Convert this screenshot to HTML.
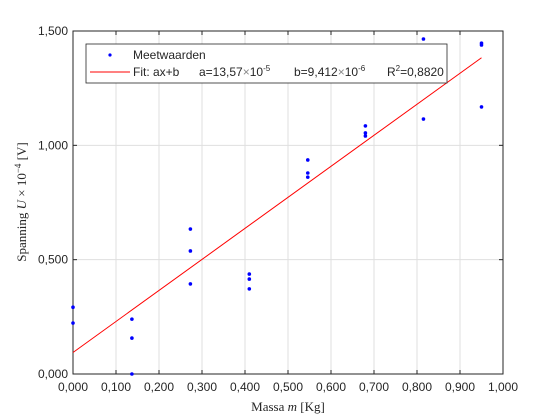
<!DOCTYPE html>
<html><head><meta charset="utf-8"><style>
html,body{margin:0;padding:0;background:#fff;}
svg{display:block;}
.t{font-family:"Liberation Sans",sans-serif;font-size:12px;fill:#262626;}
.s{font-family:"Liberation Serif",serif;font-size:13px;fill:#262626;}
</style></head><body>
<svg id="c" width="560" height="420">
<rect width="560" height="420" fill="#fff"/>
<g id="grid"></g><g id="axes"></g><g id="marks"></g>
<text class="s" x="288" y="411" text-anchor="middle">Massa <tspan font-style="italic">m</tspan> [Kg]</text>
<text class="s" transform="translate(26,202) rotate(-90)" text-anchor="middle">Spanning <tspan font-style="italic">U</tspan> × 10<tspan dy="-5" font-size="9">−4</tspan><tspan dy="5"> [V]</tspan></text>
<g>
<rect x="86" y="44" width="361" height="39" fill="#fff" stroke="#262626" stroke-width="0.8"/>
<circle cx="110" cy="55" r="1.6" fill="#0000ff"/>
<text class="t" x="133" y="59" font-size="11">Meetwaarden</text>
<line x1="90" y1="72" x2="130" y2="72" stroke="#ff0000" stroke-width="1"/>
<text class="t" x="133" y="76" font-size="11">Fit: ax+b<tspan x="199">a=13,57</tspan><tspan fill="#888">×</tspan>10<tspan dy="-5" font-size="8">-5</tspan><tspan dy="5" x="294">b=9,412</tspan><tspan fill="#888">×</tspan>10<tspan dy="-5" font-size="8">-6</tspan><tspan dy="5" x="387">R</tspan><tspan dy="-5" font-size="8">2</tspan><tspan dy="5">=0,8820</tspan></text>
</g>
</svg>
<script>
const xTicks=[0,0.1,0.2,0.3,0.4,0.5,0.6,0.7,0.8,0.9,1.0];
const xTickLabels=["0,000","0,100","0,200","0,300","0,400","0,500","0,600","0,700","0,800","0,900","1,000"];
const yTicks=[0,0.5,1.0,1.5];
const yTickLabels=["0,000","0,500","1,000","1,500"];
const massX=[0,0,0.137,0.137,0.137,0.273,0.273,0.273,0.41,0.41,0.41,0.546,0.546,0.546,0.68,0.68,0.68,0.815,0.815,0.95,0.95,0.95];
const voltY=[0.292,0.223,0.24,0.157,0,0.634,0.538,0.394,0.437,0.415,0.372,0.936,0.879,0.861,1.085,1.054,1.041,1.465,1.115,1.447,1.439,1.168];
const fitA=1.357, fitB=0.094;
const fitRange=[0,0.95];
const L=73,R=503,T=31,B=374;
const sx=v=>L+(v-0)/(1-0)*(R-L);
const sy=v=>B-(v-0)/(1.5-0)*(B-T);
const NS="http://www.w3.org/2000/svg";
function mk(p,tag,at){const e=document.createElementNS(NS,tag);for(const k in at)e.setAttribute(k,at[k]);p.appendChild(e);return e;}
const grid=document.getElementById('grid'),axes=document.getElementById('axes'),marks=document.getElementById('marks');
xTicks.forEach((v,i)=>{
 if(i>0&&i<xTicks.length-1){const g=mk(grid,'line',{x1:sx(v),x2:sx(v),y1:T,y2:B,stroke:'#dfdfdf','stroke-width':1});
 
 }
 mk(axes,'line',{x1:sx(v),x2:sx(v),y1:B,y2:B-4,stroke:'#262626'});
 mk(axes,'line',{x1:sx(v),x2:sx(v),y1:T,y2:T+4,stroke:'#262626'});
 const t=mk(axes,'text',{x:sx(v),y:B+17,'text-anchor':'middle',class:'t'});t.textContent=xTickLabels[i];
 
 
});
yTicks.forEach((v,i)=>{
 if(i>0&&i<yTicks.length-1){const g=mk(grid,'line',{x1:L,x2:R,y1:sy(v),y2:sy(v),stroke:'#dfdfdf','stroke-width':1});
 
 }
 mk(axes,'line',{x1:L,x2:L+4,y1:sy(v),y2:sy(v),stroke:'#262626'});
 mk(axes,'line',{x1:R,x2:R-4,y1:sy(v),y2:sy(v),stroke:'#262626'});
 const t=mk(axes,'text',{x:L-5,y:sy(v)+4,'text-anchor':'end',class:'t'});t.textContent=yTickLabels[i];
 
 
});
const box=mk(axes,'rect',{x:L,y:T,width:R-L,height:B-T,fill:'none',stroke:'#262626','stroke-width':1});


const fl=mk(marks,'line',{x1:sx(fitRange[0]),y1:sy(fitA*fitRange[0]+fitB),x2:sx(fitRange[1]),y2:sy(fitA*fitRange[1]+fitB),stroke:'#ff0000','stroke-width':1});


massX.forEach((m,i)=>{
 const c=mk(marks,'circle',{cx:sx(m),cy:sy(voltY[i]),r:1.8,fill:'#0000ff'});
 
 
});
</script>
</body></html>
